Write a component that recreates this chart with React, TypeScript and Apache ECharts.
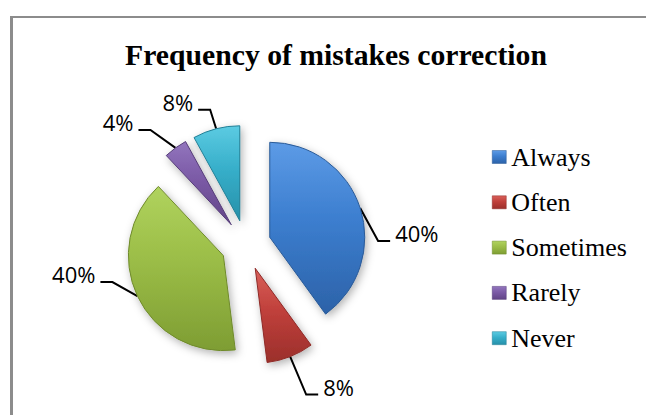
import React, { useEffect, useRef } from "react";
import * as echarts from "echarts";

// ---- data ----
const titleText = "Frequency of mistakes correction";
const categories = ["Always", "Often", "Sometimes", "Rarely", "Never"];
const values = [40, 8, 40, 4, 8];

// ---- styles ----
const shades: Record<string, string[]> = {
  Always: ["#5d9be6", "#3c7ecf", "#2c62a8", "#2a5a97"],
  Often: ["#d9605a", "#c0403b", "#9b2f2b", "#8e2a27"],
  Sometimes: ["#b0d35e", "#9bbd47", "#7e9d33", "#6f8a2c"],
  Rarely: ["#9275bd", "#7b5aa6", "#614487", "#553c78"],
  Never: ["#5ccbe2", "#37afca", "#2690a9", "#217f96"],
};
// bend of each leader line, relative to its anchor on the slice
const leaderBend: Record<string, [number, number]> = {
  Always: [18, 33],
  Often: [16, 38],
  Sometimes: [-25, -14],
  Rarely: [-25, -18],
  Never: [-6, -19],
};
const LEN2 = 12;
const GAP = 5;
const RAISE = 8;
const DIST = 5;

export default function App() {
  const ref = useRef<HTMLDivElement>(null);
  useEffect(() => {
    if (!ref.current) return;
    const chart = echarts.init(ref.current, undefined, { renderer: "svg" });
    const data = categories.map((name, i) => {
      const s = shades[name];
      return {
        name,
        value: values[i],
        selected: true,
        itemStyle: {
          color: new echarts.graphic.LinearGradient(0, 0, 0, 1, [
            { offset: 0, color: s[0] },
            { offset: 0.45, color: s[1] },
            { offset: 1, color: s[2] },
          ]),
          borderColor: s[3],
          borderWidth: 1,
        },
      };
    });
    chart.setOption({
      animation: false,
      title: {
        text: titleText,
        left: 336,
        top: 40,
        textAlign: "center",
        padding: 0,
        textStyle: {
          fontFamily: "Liberation Serif",
          fontWeight: "bold",
          fontSize: 29.7,
          color: "#000000",
        },
      },
      legend: {
        orient: "vertical",
        left: 492,
        top: 144,
        padding: 0,
        itemWidth: 14,
        itemHeight: 13,
        itemGap: 19.3,
        icon: "rect",
        selectedMode: false,
        data: categories,
        itemStyle: { shadowBlur: 0, shadowOffsetX: 0, shadowOffsetY: 0, borderWidth: 0.5 },
        textStyle: {
          fontFamily: "Liberation Serif",
          fontSize: 26,
          lineHeight: 26,
          color: "#000000",
        },
      },
      series: [
        {
          type: "pie",
          center: [246, 245],
          radius: 95,
          startAngle: 90,
          clockwise: true,
          selectedMode: "multiple",
          selectedOffset: 25,
          avoidLabelOverlap: false,
          emphasis: { disabled: true },
          itemStyle: {
            shadowBlur: 8,
            shadowOffsetX: 2,
            shadowOffsetY: 3,
            shadowColor: "rgba(0,0,0,0.3)",
          },
          label: {
            show: true,
            position: "outside",
            formatter: "{d}%",
            fontFamily: "Open Sans",
            fontSize: 22,
            color: "#000000",
            distanceToLabelLine: DIST,
          },
          labelLine: {
            show: true,
            length: 15,
            length2: 15,
            lineStyle: { color: "#000000", width: 2 },
          },
          labelLayout: (p: any) => {
            const pts = p.labelLinePoints;
            if (!pts || pts.length < 3) return {};
            const name = categories[p.dataIndex];
            const [bx, by] = leaderBend[name];
            const s = bx >= 0 ? 1 : -1;
            const p0 = pts[0];
            const p2 = pts[2];
            const corner = [p0[0] + bx, p0[1] + by];
            const end = [corner[0] + s * LEN2, corner[1]];
            const textEdge = end[0] + s * GAP;
            const textCy = corner[1] - RAISE;
            const defaultEdge = p2[0] + s * DIST;
            return {
              dx: textEdge - defaultEdge,
              dy: textCy - p2[1],
              labelLinePoints: [p0, corner, end],
            };
          },
          data,
        },
      ],
    });
    return () => chart.dispose();
  }, []);
  return (
    <div
      style={{
        position: "fixed",
        left: 0,
        top: 0,
        width: 646,
        height: 415,
        background: "#fff",
        overflow: "hidden",
      }}
    >
      <div
        style={{
          position: "absolute",
          left: 10,
          top: 16,
          width: 800,
          height: 600,
          borderLeft: "3px solid #8c8c8c",
          borderTop: "2px solid #8c8c8c",
          boxSizing: "border-box",
        }}
      />
      <div ref={ref} style={{ position: "absolute", left: 0, top: 0, width: 646, height: 415 }} />
    </div>
  );
}
